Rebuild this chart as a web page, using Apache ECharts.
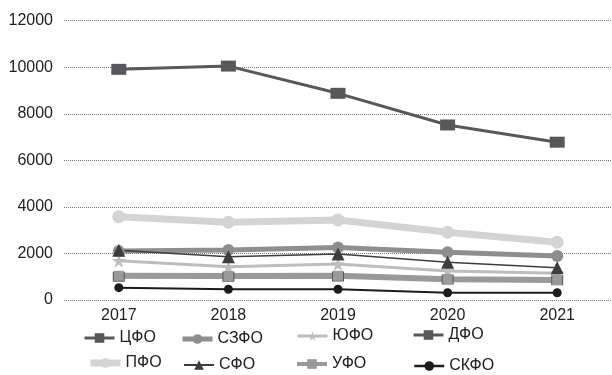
<!DOCTYPE html>
<html>
<head>
<meta charset="utf-8">
<script src="https://cdn.jsdelivr.net/npm/echarts@6/dist/echarts.min.js"></script>
<style>
  html, body { margin: 0; padding: 0; background: #fff; }
  #chart { width: 612px; height: 375px; }
</style>
</head>
<body>
<div id="chart"></div>
<script>
// years on the x axis
const years = ['2017', '2018', '2019', '2020', '2021'];

// values per federal district
const cfo  = [9910, 10050, 8880, 7520, 6780];
const szfo = [2100, 2150, 2260, 2050, 1890];
const yufo = [1690, 1430, 1550, 1250, 1150];
const dfo  = [1000, 1000, 1010, 880, 850];
const pfo  = [3580, 3340, 3440, 2910, 2480];
const sfo  = [2140, 1860, 1980, 1620, 1390];
const ufo  = [1040, 1030, 1040, 890, 860];
const skfo = [530, 460, 460, 310, 310];

const star = 'path://M50,0 L61,35 L98,35 L68,57 L79,91 L50,70 L21,91 L32,57 L2,35 L39,35 Z';
const font = 'Liberation Sans, Arial, sans-serif';

function line(name, data, color, width, symbol, size) {
    return {
        name: name,
        type: 'line',
        data: data,
        symbol: symbol,
        symbolSize: size,
        showAllSymbol: true,
        itemStyle: { color: color },
        lineStyle: { color: color, width: width },
    };
}

const series = [
    line('ЦФО', cfo, '#58585a', 3, 'rect', [15, 11]),
    line('СЗФО', szfo, '#8e8e8e', 5, 'circle', 12),
    line('ЮФО', yufo, '#bdbdbd', 3, star, 14),
    line('ДФО', dfo, '#58585a', 3, 'rect', [12, 10]),
    line('ПФО', pfo, '#d4d4d4', 7, 'circle', 13),
    line('СФО', sfo, '#3d3d3d', 1.5, 'triangle', 13),
    line('УФО', ufo, '#9a9a9a', 6, 'rect', [10, 10]),
    line('СКФО', skfo, '#1c1c1c', 2, 'circle', 9),
];

// legend spots: [name, icon left, row center, legend line width]
const legendPos = [
    ['ЦФО', 83, 338, 3], ['СЗФО', 180, 339, 5], ['ЮФО', 296, 336, 3], ['ДФО', 412, 335, 3],
    ['ПФО', 87, 363, 7], ['СФО', 183, 365, 2], ['УФО', 295, 364, 4], ['СКФО', 413, 366, 2.5],
];

const legends = legendPos.map(function (p) {
    return {
        data: [p[0]],
        left: p[1],
        top: p[2] - 8,
        padding: 0,
        itemWidth: 30,
        itemHeight: 12,
        lineStyle: { width: p[3] },
        textStyle: { fontFamily: font, fontSize: 16, color: '#222', lineHeight: 16 },
        selectedMode: false,
    };
});

const chart = echarts.init(document.getElementById('chart'));
chart.setOption({
    animation: false,
    grid: { left: 64, right: -3, top: 20.7, bottom: 75 },
    legend: legends,
    xAxis: {
        type: 'category',
        data: years,
        boundaryGap: true,
        axisLine: { show: false },
        axisTick: { show: false },
        axisLabel: { margin: 8, fontFamily: font, fontSize: 16, color: '#222' },
    },
    yAxis: {
        type: 'value',
        min: 0,
        max: 12000,
        interval: 2000,
        axisLine: { show: false },
        axisTick: { show: false },
        axisLabel: {
            margin: 11, fontFamily: font, fontSize: 16, color: '#222',
            formatter: function (v) { return String(v); },
        },
        splitLine: { lineStyle: { type: 'dotted', color: '#777', width: 1 } },
    },
    series: series,
});
</script>
</body>
</html>
